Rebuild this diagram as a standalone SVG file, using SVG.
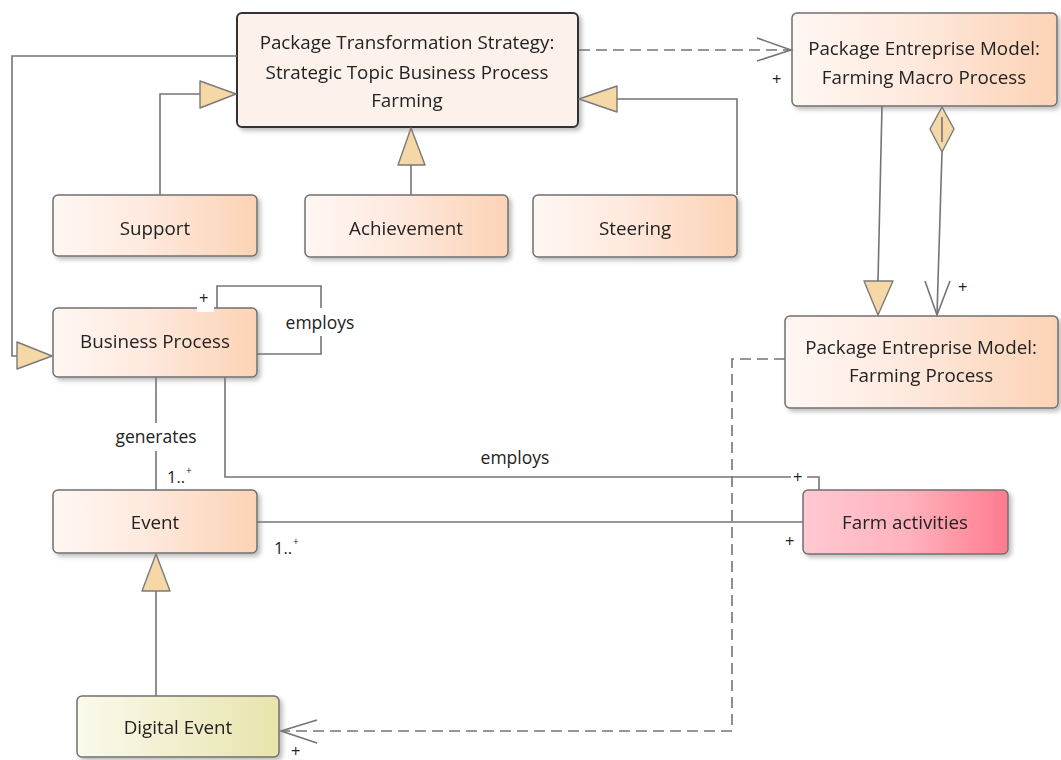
<svg xmlns="http://www.w3.org/2000/svg" width="1061" height="760" viewBox="0 0 1061 760">
  <style>
    .node { stroke: #707070; stroke-width: 1.5; }
    .peach { fill: url(#gPeach); }
    .pink { fill: url(#gPink); }
    .olive { fill: url(#gOlive); }
    .label { font-family: "Open Sans", "Liberation Sans", sans-serif; font-size: 18.8px; fill: #222; text-anchor: middle; }
    .small { font-family: "Open Sans", "Liberation Sans", sans-serif; font-size: 17.5px; fill: #222; }
    .mark { font-family: "Open Sans", "Liberation Sans", sans-serif; font-size: 16.5px; fill: #222; }
    .tiny { font-family: "Open Sans", "Liberation Sans", sans-serif; font-size: 10px; fill: #222; }
    .line { fill: none; stroke: #747474; stroke-width: 1.6; }
    .dash { fill: none; stroke: #747474; stroke-width: 1.6; stroke-dasharray: 11 6; }
    .head { fill: #f6d7a6; stroke: #7a7a7a; stroke-width: 1.4; stroke-linejoin: round; }
    .open { fill: none; stroke: #747474; stroke-width: 1.6; }
    .bg { fill: #fff; }
  </style>
  <defs>
    <linearGradient id="gPeach" x1="0" y1="0" x2="1" y2="0">
      <stop offset="0" stop-color="#fff7f3"/>
      <stop offset="0.45" stop-color="#fee9de"/>
      <stop offset="1" stop-color="#fcd3b5"/>
    </linearGradient>
    <linearGradient id="gPink" x1="0" y1="0" x2="1" y2="0">
      <stop offset="0" stop-color="#ffc9d1"/>
      <stop offset="0.5" stop-color="#ffb3be"/>
      <stop offset="1" stop-color="#ff7b8e"/>
    </linearGradient>
    <linearGradient id="gOlive" x1="0" y1="0" x2="1" y2="0">
      <stop offset="0" stop-color="#fbfaec"/>
      <stop offset="1" stop-color="#e7e4ac"/>
    </linearGradient>
    <filter id="shadow" x="-10%" y="-10%" width="130%" height="140%">
      <feDropShadow dx="3" dy="3" stdDeviation="2" flood-color="#000" flood-opacity="0.25"/>
    </filter>
  </defs>

  <rect width="1061" height="760" fill="#fff"/>

  <!-- nodes -->
  <g id="strategy" filter="url(#shadow)">
    <rect x="237" y="13" width="341" height="114" rx="5" fill="#fdf1ec" stroke="#333" stroke-width="2"/>
    <text class="label" x="407" y="49">Package Transformation Strategy:</text>
    <text class="label" x="407" y="79">Strategic Topic Business Process</text>
    <text class="label" x="407" y="107">Farming</text>
  </g>
  <g id="macro-process" filter="url(#shadow)">
    <rect class="node peach" x="792" y="13" width="265" height="93" rx="5"/>
    <text class="label" x="924" y="55">Package Entreprise Model:</text>
    <text class="label" x="924" y="84">Farming Macro Process</text>
  </g>
  <g id="support" filter="url(#shadow)">
    <rect class="node peach" x="53" y="195" width="204" height="61" rx="5"/>
    <text class="label" x="155" y="235">Support</text>
  </g>
  <g id="achievement" filter="url(#shadow)">
    <rect class="node peach" x="305" y="195" width="203" height="62" rx="5"/>
    <text class="label" x="406" y="235">Achievement</text>
  </g>
  <g id="steering" filter="url(#shadow)">
    <rect class="node peach" x="533" y="195" width="204" height="62" rx="5"/>
    <text class="label" x="635" y="235">Steering</text>
  </g>
  <g id="business-process" filter="url(#shadow)">
    <rect class="node peach" x="53" y="308" width="204" height="69" rx="5"/>
    <text class="label" x="155" y="348">Business Process</text>
  </g>
  <g id="farming-process" filter="url(#shadow)">
    <rect class="node peach" x="785" y="316" width="273" height="92" rx="5"/>
    <text class="label" x="921" y="354">Package Entreprise Model:</text>
    <text class="label" x="921" y="382">Farming Process</text>
  </g>
  <g id="event" filter="url(#shadow)">
    <rect class="node peach" x="53" y="490" width="204" height="63" rx="5"/>
    <text class="label" x="155" y="529">Event</text>
  </g>
  <g id="farm-activities" filter="url(#shadow)">
    <rect class="node pink" x="803" y="490" width="205" height="64" rx="5"/>
    <text class="label" x="905" y="529">Farm activities</text>
  </g>
  <g id="digital-event" filter="url(#shadow)">
    <rect class="node olive" x="77" y="696" width="202" height="61" rx="5"/>
    <text class="label" x="178" y="734">Digital Event</text>
  </g>

  <!-- connectors -->
  <g id="connectors">
    <!-- strategy depends on macro process -->
    <line class="dash" x1="579" y1="50" x2="790" y2="50"/>
    <polyline class="open" points="757,38 791,50 757,61"/>
    <text class="mark" x="772" y="85">+</text>

    <!-- steering generalizes strategy -->
    <polyline class="line" points="737,195 737,99 617,99"/>
    <polygon class="head" points="617,86 579,99 617,112"/>

    <!-- achievement generalizes strategy -->
    <line class="line" x1="411" y1="195" x2="411" y2="165"/>
    <polygon class="head" points="398,165 411,128 425,165"/>

    <!-- support generalizes strategy -->
    <polyline class="line" points="160,195 160,94 200,94"/>
    <polygon class="head" points="200,81 236,94 200,108"/>

    <!-- strategy generalizes business process -->
    <polyline class="line" points="237,56 12,56 12,356 17,356"/>
    <polygon class="head" points="17,342 52,356 17,369"/>

    <!-- business process employs itself -->
    <polyline class="line" points="217,308 217,286 321,286 321,354 257,354"/>
    <rect class="bg" x="280" y="308" width="84" height="28"/>
    <text class="small" x="320" y="329" text-anchor="middle">employs</text>
    <rect class="bg" x="197" y="299" width="17" height="13"/>
    <text class="mark" x="199" y="304">+</text>

    <!-- business process generates event -->
    <line class="line" x1="156" y1="377" x2="156" y2="490"/>
    <rect class="bg" x="106" y="423" width="100" height="28"/>
    <text class="small" x="156" y="443" text-anchor="middle">generates</text>
    <text class="mark" x="167" y="483">1..</text>
    <text class="tiny" x="186" y="474">+</text>

    <!-- business process employs farm activities -->
    <polyline class="line" points="225,377 225,477 819,477 819,490"/>
    <text class="small" x="515" y="464" text-anchor="middle">employs</text>
    <rect class="bg" x="791" y="468" width="16" height="18"/>
    <text class="mark" x="793" y="483">+</text>

    <!-- event associated with farm activities -->
    <line class="line" x1="257" y1="522" x2="803" y2="522"/>
    <text class="mark" x="274" y="554">1..</text>
    <text class="tiny" x="293" y="545">+</text>
    <text class="mark" x="785" y="547">+</text>

    <!-- digital event generalizes event -->
    <line class="line" x1="156" y1="696" x2="156" y2="591"/>
    <polygon class="head" points="142,591 170,591 156,554"/>

    <!-- macro process generalization to farming process -->
    <line class="line" x1="882" y1="106" x2="878" y2="281"/>
    <polygon class="head" points="864,281 893,281 878,315"/>

    <!-- macro process aggregates farming process -->
    <line class="line" x1="942" y1="152" x2="937" y2="314"/>
    <polygon class="head" points="942,107 954,129 942,152 930,129"/>
    <line class="line" x1="942" y1="117" x2="942" y2="142"/>
    <polyline class="open" points="925,281 937,315 950,281"/>
    <text class="mark" x="958" y="293">+</text>

    <!-- farming process depends on digital event -->
    <polyline class="dash" points="785,359 732,359 732,731 281,731"/>
    <polyline class="open" points="317,720 281,731 317,743"/>
    <text class="mark" x="291" y="757">+</text>
  </g>
</svg>
